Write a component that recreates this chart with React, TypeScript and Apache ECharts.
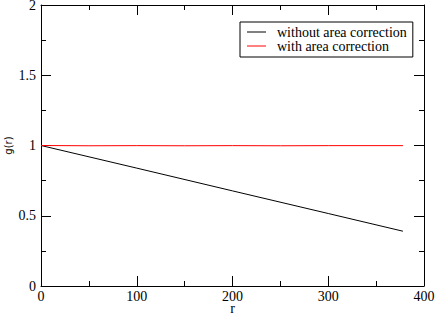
import React, { useEffect, useRef } from "react";
import * as echarts from "echarts";

const seriesNames = ["without area correction", "with area correction"];
const withoutCorrection: [number, number][] = [
  [0, 1.0],
  [100, 0.839],
  [200, 0.677],
  [300, 0.516],
  [378, 0.39],
];
const withCorrection: [number, number][] = [
  [0, 1.0],
  [50, 0.998],
  [100, 0.999],
  [150, 0.998],
  [200, 0.999],
  [250, 0.998],
  [300, 0.999],
  [378, 0.999],
];
const xRange = { min: 0, max: 400, interval: 100 };
const yRange = { min: 0, max: 2, interval: 0.5 };

const SERIF = "'Liberation Serif', 'Times New Roman', Times, serif";

export default function App() {
  const ref = useRef<HTMLDivElement>(null);
  useEffect(() => {
    if (!ref.current) return;
    const chart = echarts.init(ref.current, undefined, { renderer: "svg" });
    const tick = { show: true, inside: true, length: 10, lineStyle: { color: "#000", width: 1 } };
    const minor = { show: true, splitNumber: 2, length: 5, lineStyle: { color: "#000", width: 1 } };
    const line = { show: true, onZero: false, lineStyle: { color: "#000", width: 1 } };
    const labelStyle = { fontFamily: SERIF, fontSize: 14, lineHeight: 14, color: "#000" };
    chart.setOption({
      animation: false,
      backgroundColor: "#fff",
      grid: { left: 41, right: 12, top: 5, bottom: 28, containLabel: false, outerBoundsMode: "none" },
      legend: {
        data: seriesNames,
        orient: "vertical",
        left: 240,
        top: 22,
        padding: [3, 6, 4, 7],
        itemGap: 0,
        itemWidth: 19,
        itemHeight: 1,
        icon: "rect",
        borderColor: "#000",
        borderWidth: 1,
        backgroundColor: "#fff",
        textStyle: { fontFamily: SERIF, fontSize: 14, color: "#000", padding: [0, 0, 0, 6], lineHeight: 13 },
      },
      xAxis: [
        {
          type: "value",
          ...xRange,
          name: "r",
          nameLocation: "middle",
          nameGap: 17,
          nameMoveOverlap: false,
          nameTextStyle: { fontFamily: SERIF, fontSize: 14, lineHeight: 11, color: "#000", verticalAlign: "top" },
          axisLine: line,
          axisTick: tick,
          minorTick: minor,
          splitLine: { show: false },
          axisLabel: { ...labelStyle, margin: 3 },
        },
        {
          type: "value",
          ...xRange,
          position: "top",
          axisLine: line,
          axisTick: tick,
          minorTick: minor,
          splitLine: { show: false },
          axisLabel: { show: false },
        },
      ],
      yAxis: [
        {
          type: "value",
          ...yRange,
          name: "g(r)",
          nameLocation: "middle",
          nameGap: 28,
          nameMoveOverlap: false,
          nameTextStyle: { fontFamily: "'DejaVu Sans', sans-serif", fontSize: 10, color: "#000" },
          axisLine: line,
          axisTick: tick,
          minorTick: minor,
          splitLine: { show: false },
          axisLabel: { ...labelStyle, margin: 5 },
        },
        {
          type: "value",
          ...yRange,
          position: "right",
          axisLine: line,
          axisTick: tick,
          minorTick: minor,
          splitLine: { show: false },
          axisLabel: { show: false },
        },
      ],
      series: [
        {
          name: seriesNames[0],
          type: "line",
          data: withoutCorrection,
          showSymbol: false,
          symbol: "none",
          lineStyle: { color: "#000", width: 1 },
          itemStyle: { color: "#000" },
        },
        {
          name: seriesNames[1],
          type: "line",
          data: withCorrection,
          showSymbol: false,
          symbol: "none",
          lineStyle: { color: "#ff0000", width: 1 },
          itemStyle: { color: "#ff0000" },
        },
      ],
    });
    return () => chart.dispose();
  }, []);
  return <div ref={ref} style={{ width: 436, height: 314, position: "absolute", left: 0, top: 0 }} />;
}
